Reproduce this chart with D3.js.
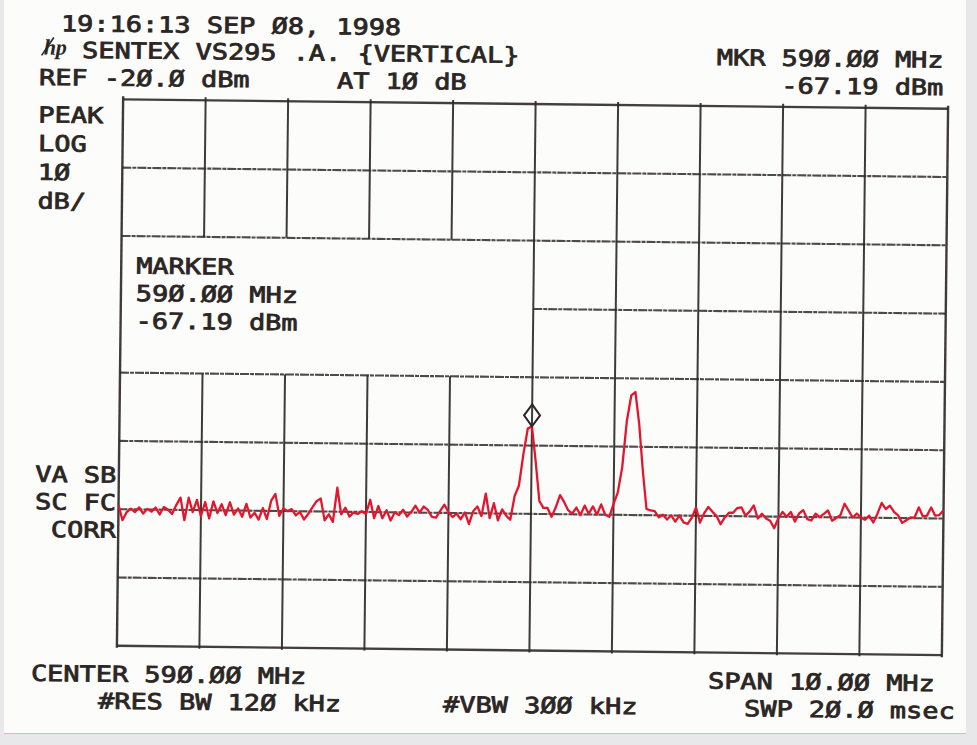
<!DOCTYPE html>
<html>
<head>
<meta charset="utf-8">
<script src="https://cdn.jsdelivr.net/npm/d3@7"></script>
<style>
  body { margin: 0; background: #e8e8ea; }
  svg { display: block; }
</style>
</head>
<body>
<div id="chart"></div>
<script>
// sweep settings (from the screen annotations)
var centerMHz = 590.0;
var spanMHz = 10.0;
var refLevel = -20;      // dBm, top of screen
var dbPerDiv = 10;

// grid divisions
var freqDivs = [585, 586, 587, 588, 589, 590, 591, 592, 593, 594, 595];
var levelDivs = [-100, -90, -80, -70, -60, -50, -40, -30, -20];

// marker
var markerFreq = 590.00;
var markerLevel = -67.19;

// trace, dBm, 201 points (585 -> 595 MHz)
var trace = [
  -79.4, -81.6, -80.4, -79.9, -80.4, -79.7, -80.6, -79.9, -80.3, -79.7,
  -80.7, -79.6, -80.0, -80.6, -79.3, -78.2, -81.5, -78.2, -80.3, -78.5,
  -80.9, -78.8, -81.2, -78.7, -80.4, -79.1, -80.7, -78.8, -80.6, -79.7,
  -80.9, -79.0, -81.0, -80.3, -81.3, -79.6, -81.2, -78.5, -77.5, -80.7,
  -79.6, -80.0, -79.7, -80.6, -80.1, -81.2, -80.4, -79.4, -78.5, -78.1,
  -81.3, -80.4, -81.5, -76.5, -80.4, -79.4, -80.7, -80.1, -80.3, -79.9,
  -80.3, -78.2, -80.9, -79.1, -80.9, -79.7, -81.2, -80.0, -80.4, -79.6,
  -80.6, -79.9, -79.0, -80.0, -79.1, -79.6, -80.6, -80.7, -79.7, -78.8,
  -79.9, -80.6, -80.1, -80.9, -79.9, -81.6, -79.7, -79.0, -80.4, -77.1,
  -80.7, -78.5, -81.0, -79.4, -80.3, -80.9, -77.4, -75.9, -71.3, -67.5,
  -67.19, -72.3, -78.1, -79.1, -79.1, -80.4, -79.0, -77.2, -78.2, -79.4,
  -79.9, -79.0, -80.1, -78.7, -79.9, -78.8, -80.0, -78.5, -80.0, -80.3,
  -78.4, -76.7, -73.0, -66.2, -62.5, -62.0, -66.7, -73.5, -79.1, -79.3,
  -79.4, -80.3, -79.9, -80.6, -80.0, -80.9, -80.0, -81.0, -81.2, -80.3,
  -78.8, -81.0, -79.6, -78.7, -79.4, -80.0, -81.2, -80.2, -79.5, -79.5,
  -78.8, -78.7, -79.9, -79.3, -78.4, -80.3, -79.6, -80.3, -80.6, -81.7,
  -80.2, -79.3, -80.0, -79.3, -80.7, -79.5, -79.0, -80.3, -80.5, -79.5,
  -80.0, -79.5, -79.0, -80.5, -80.1, -79.7, -78.0, -79.0, -80.0, -79.4,
  -80.0, -80.3, -79.7, -80.7, -79.4, -77.8, -78.7, -78.2, -79.1, -79.6,
  -80.7, -80.3, -79.9, -79.9, -78.4, -79.7, -79.6, -78.4, -79.6, -79.5,
  -78.8
];

// screen text
var stampText = "19:16:13 SEP Ø8, 1998";
var titleText = "SENTEX VS295 .A. {VERTICAL}";
var refText = "REF -2Ø.Ø dBm";
var attText = "AT 1Ø dB";
var mkrLines = ["MKR 59Ø.ØØ MHz", "-67.19 dBm"];
var scaleLines = ["PEAK", "LOG", "1Ø", "dB/"];
var markerLines = ["MARKER", "59Ø.ØØ MHz", "-67.19 dBm"];
var corrLines = ["VA SB", "SC FC", "CORR"];
var centerText = "CENTER 59Ø.ØØ MHz";
var spanText = "SPAN 1Ø.ØØ MHz";
var rbwText = "#RES BW 12Ø kHz";
var vbwText = "#VBW 3ØØ kHz";
var swpText = "SWP 2Ø.Ø msec";

//MarK: layout
var W = 977, H = 745;
var plot = { left: 120, right: 945, top: 104, bottom: 650.5 };
var CH = 16.2;   // plotter character cell width
var ink = "#2b2624";

var x = d3.scaleLinear()
  .domain([centerMHz - spanMHz / 2, centerMHz + spanMHz / 2])
  .range([plot.left, plot.right]);
var y = d3.scaleLinear()
  .domain([refLevel - 8 * dbPerDiv, refLevel])
  .range([plot.bottom, plot.top]);

var svg = d3.select("#chart").append("svg")
  .attr("width", W)
  .attr("height", H);

// scanned sheet
svg.append("rect").attr("width", W).attr("height", H).attr("fill", "#e8e8ea");
svg.append("rect")
  .attr("x", 4).attr("y", 0)
  .attr("width", 962).attr("height", 733)
  .attr("fill", "#fcfcfb");
svg.append("line")
  .attr("x1", 4).attr("x2", 966).attr("y1", 733.5).attr("y2", 733.5)
  .attr("stroke", "#d9b8c4").attr("stroke-width", 1);

// the printout sits a little crooked on the scanner
var g = svg.append("g")
  .attr("transform", "rotate(0.65,532,377)");

//MarK: graticule
var grid = g.append("g")
  .attr("stroke", "#2f2a28")
  .attr("fill", "none");

var boxF = [585, 590], boxL = [-60, -40];   // area cleared for the marker readout

freqDivs.forEach(function(f) {
  var segs = [[levelDivs[0], levelDivs[levelDivs.length - 1]]];
  if (f > boxF[0] && f < boxF[1]) segs = [[levelDivs[0], boxL[0]], [boxL[1], levelDivs[levelDivs.length - 1]]];
  var edge = (f === freqDivs[0] || f === freqDivs[freqDivs.length - 1]);
  segs.forEach(function(s) {
    grid.append("line")
      .attr("x1", x(f)).attr("x2", x(f))
      .attr("y1", y(s[0]) + (s[0] === levelDivs[0] ? 2 : 0))
      .attr("y2", y(s[1]) - (s[1] === refLevel ? 3 : 0))
      .attr("stroke-width", edge ? 2.4 : 2)
      .attr("stroke-opacity", 0.92);
  });
});

levelDivs.forEach(function(l) {
  var x0 = freqDivs[0];
  if (l > boxL[0] && l < boxL[1]) x0 = boxF[1];
  var edge = (l === levelDivs[0] || l === refLevel);
  grid.append("line")
    .attr("x1", x(x0)).attr("x2", x(freqDivs[freqDivs.length - 1]))
    .attr("y1", y(l)).attr("y2", y(l))
    .attr("stroke-width", edge ? 2.4 : 2.1)
    .attr("stroke-opacity", edge ? 0.9 : 0.85)
    .attr("stroke-dasharray", edge ? null : "9,1,4,1");
});

//MarK: trace
var step = spanMHz / (trace.length - 1);
var pts = trace.map(function(v, i) {
  return { f: centerMHz - spanMHz / 2 + i * step, v: v };
});

var line = d3.line()
  .x(function(d) { return x(d.f); })
  .y(function(d) { return y(d.v); });

g.append("path")
  .datum(pts)
  .attr("d", line)
  .attr("fill", "none")
  .attr("stroke", "#e3162d")
  .attr("stroke-width", 2.3)
  .attr("stroke-linejoin", "round");

// marker diamond sitting on the peak
var mx = x(markerFreq), my = y(markerLevel) - 11;
g.append("path")
  .attr("d", "M" + mx + "," + (my - 11) + "L" + (mx + 8) + "," + my +
             "L" + mx + "," + (my + 11) + "L" + (mx - 8) + "," + my + "Z")
  .attr("fill", "none")
  .attr("stroke", ink)
  .attr("stroke-width", 2);

//MarK: annotation text
function label(txt, tx, ty) {
  g.append("text")
    .attr("x", tx).attr("y", ty)
    .attr("textLength", txt.length * CH)
    .attr("lengthAdjust", "spacingAndGlyphs")
    .attr("font-family", "'DejaVu Sans Mono', monospace")
    .attr("font-size", 22)
    .attr("fill", ink)
    .attr("stroke", ink)
    .attr("stroke-width", 0.8)
    .style("white-space", "pre")
    .text(txt);
}

label(stampText, 57, 36.5);
label(titleText, 78.5, 63);
label(refText, 35.7, 90.5);
label(attText, 333.7, 90.5);
mkrLines.forEach(function(t, i) {
  label(t, 940 - t.length * CH, 63 + i * 27.5);
});
scaleLines.forEach(function(t, i) {
  label(t, 35.5, 128 + i * 28.7);
});
markerLines.forEach(function(t, i) {
  label(t, 135, 278 + i * 27.5);
});
corrLines.forEach(function(t, i) {
  label(t, 117.5 - t.length * CH, 487.5 + i * 27.5);
});
label(centerText, 34.4, 686.5);
label(spanText, 711.5, 686.5);
label(rbwText, 101.8, 713.5);
label(vbwText, 446.8, 713);
label(swpText, 747.9, 713.8);

// hp logo
var logo = g.append("g").attr("transform", "translate(40,60)");
logo.append("text")
  .attr("font-family", "'Liberation Serif', serif")
  .attr("font-style", "italic")
  .attr("font-weight", "bold")
  .attr("font-size", 22)
  .attr("fill", ink)
  .text("hp");
logo.append("line")
  .attr("x1", -2).attr("y1", 1).attr("x2", 10).attr("y2", -17)
  .attr("stroke", ink).attr("stroke-width", 1.6);
</script>
</body>
</html>
